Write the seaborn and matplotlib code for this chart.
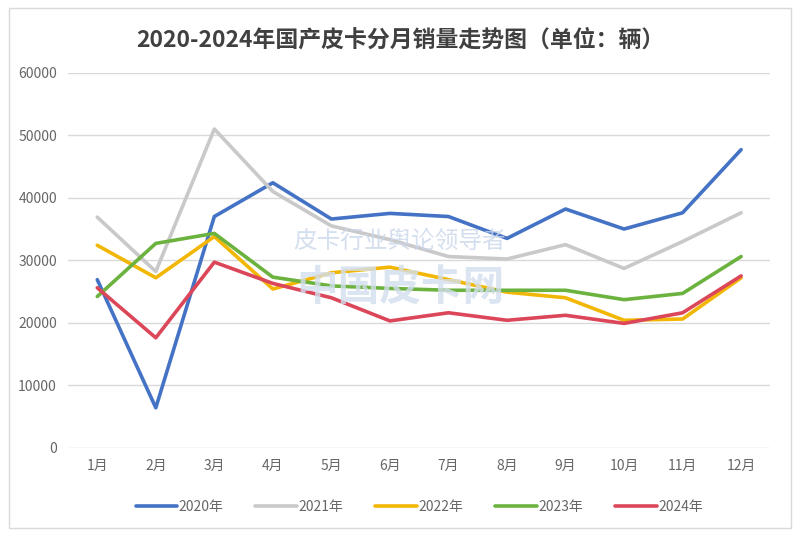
import matplotlib
matplotlib.use("Agg")
import matplotlib.pyplot as plt
import seaborn as sns
import pandas as pd
from matplotlib.patches import Rectangle

# Monthly domestic pickup sales (vehicles)
months = ["1月", "2月", "3月", "4月", "5月", "6月", "7月", "8月", "9月", "10月", "11月", "12月"]
years = ["2020年", "2021年", "2022年", "2023年", "2024年"]
sales_2020 = [26900, 6400, 37000, 42400, 36600, 37500, 37000, 33500, 38200, 35000, 37600, 47700]
sales_2021 = [36900, 28200, 51000, 41000, 35500, 33300, 30600, 30200, 32500, 28700, 33000, 37600]
sales_2022 = [32400, 27200, 33800, 25400, 28000, 28900, 26900, 24900, 24000, 20400, 20600, 27200]
sales_2023 = [24200, 32700, 34300, 27300, 25900, 25500, 25200, 25200, 25200, 23700, 24700, 30600]
sales_2024 = [25600, 17600, 29700, 26300, 24000, 20300, 21600, 20400, 21200, 19900, 21600, 27500]
colors = ["#4472C4", "#C9C9C9", "#F2B705", "#6CB23F", "#DC4659"]

sns.set_style("white")
plt.rcParams['font.family'] = ['Noto Sans CJK SC', 'DejaVu Sans']

rows = []
for year, vals in zip(years, [sales_2020, sales_2021, sales_2022, sales_2023, sales_2024]):
    for m, v in zip(months, vals):
        rows.append({'month': m, 'sales': v, 'year': year})
df = pd.DataFrame(rows)

fig = plt.figure(figsize=(8, 5.35), dpi=100)
ax = fig.add_axes([0.085, 0.163, 0.878, 0.701])

# watermark
fig.text(0.50, 0.548, "皮卡行业舆论领导者", fontsize=17, color="#C9D6EA", alpha=0.8,
         style="italic", ha="center", va="center", zorder=0)
fig.text(0.50, 0.462, "中国皮卡网", fontsize=30, fontweight="bold", color="#D3DEEE",
         alpha=0.8, ha="center", va="center", zorder=0)

sns.lineplot(data=df, x='month', y='sales', hue='year', palette=colors,
             linewidth=2.6, sort=False, ax=ax, zorder=3)

ax.set_ylim(0, 60000)
ax.set_yticks(range(0, 60001, 10000))
ax.set_xlim(-0.5, 11.5)
ax.grid(axis='y', color='#D9D9D9', linewidth=1)
ax.set_axisbelow(True)
for s in ax.spines.values():
    s.set_visible(False)
ax.tick_params(axis='both', length=0, labelsize=10, labelcolor='#666666', pad=8)
ax.set_xlabel("")
ax.set_ylabel("")
ax.patch.set_alpha(0)

ax.legend(loc='upper center', bbox_to_anchor=(0.5, -0.105), ncol=5, frameon=False,
          fontsize=10, labelcolor='#666666', handlelength=3.0, handletextpad=0.1,
          columnspacing=2.3)

fig.text(0.5, 0.925, "2020-2024年国产皮卡分月销量走势图（单位：辆）", fontsize=16.5,
         fontweight='bold', color='#404040', ha='center', va='center')

fig.patches.append(Rectangle((0.011, 0.013), 0.978, 0.972, transform=fig.transFigure,
                             fill=False, edgecolor='#D9D9D9', linewidth=1))

fig.savefig("out.png", dpi=100)
